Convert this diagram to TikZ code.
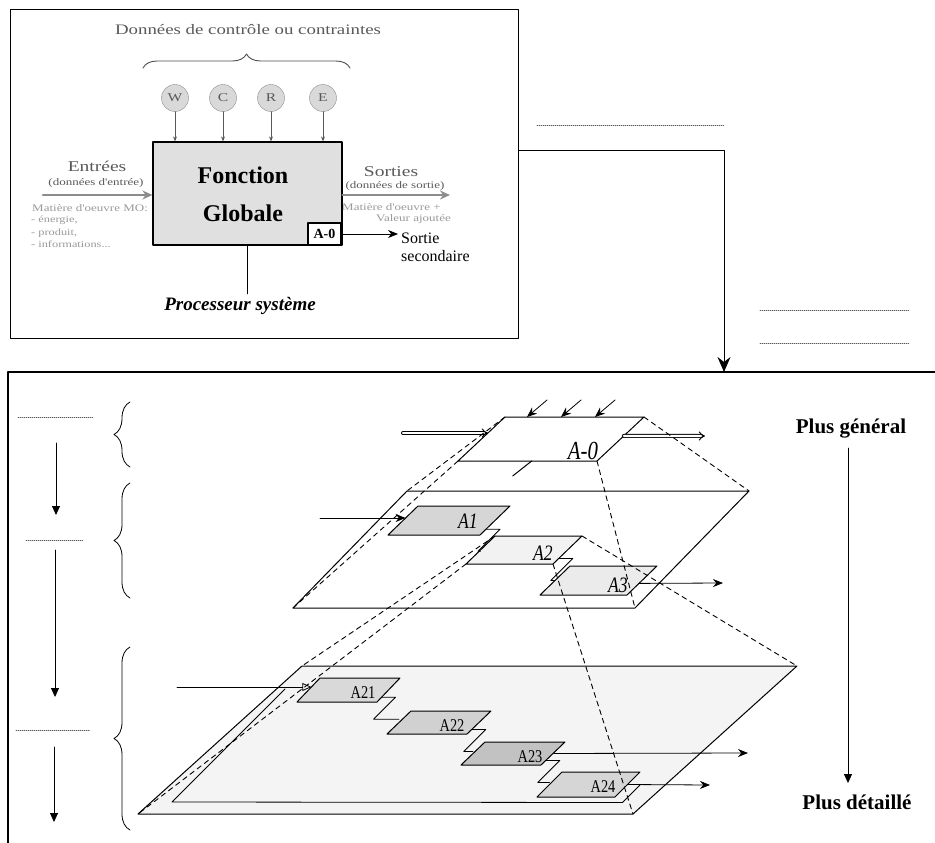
\documentclass[tikz,border=0pt]{standalone}
\usepackage{fontspec}
\setmainfont{Liberation Serif}
\newfontfamily\widefont[FakeStretch=1.3]{Liberation Serif}
\newfontfamily\narrowfont[FakeStretch=0.8]{Liberation Serif}
\usetikzlibrary{arrows.meta,calc,decorations.pathreplacing}

\definecolor{inkgrey}{gray}{0.35}
\definecolor{softgrey}{gray}{0.55}
\definecolor{paletext}{gray}{0.6}
\definecolor{boxgrey}{gray}{0.88}

\tikzset{
  frameline/.style={line width=1.1pt},
  planeline/.style={line width=1pt},
  proj/.style={dash pattern=on 5pt off 4pt,line width=.9pt},
  dots/.style={dash pattern=on .7pt off 1.3pt,line width=.7pt,black!65},
  flow/.style={-{Stealth[length=10pt,width=8pt]},line width=.8pt},
  leftflow/.style={-{Triangle[length=9pt,width=8pt]},line width=.8pt},
  openflow/.style={-{Triangle[open,length=9pt,width=8pt]},line width=.8pt},
  dflow/.style={double,double distance=2.2pt,line width=.9pt,-{Implies[scale=1.6]}},
  greyflow/.style={-{Stealth[length=10pt,width=9pt]},line width=2.6pt,softgrey},
  ctlarrow/.style={-{Stealth[length=5pt,width=4pt]},line width=.8pt,inkgrey},
  ctlcirc/.style={circle,draw=softgrey,fill=gray!30,minimum size=27,inner sep=0,
    text=inkgrey,font=\widefont\fontsize{12}{14}\selectfont},
  greytxt/.style={text=inkgrey,inner sep=1pt},
  smalltxt/.style={text=paletext,inner sep=1pt},
  zline/.style={line width=.8pt},
  boxlabel/.style={inner sep=0,font=\narrowfont\fontsize{18}{20}\selectfont},
  bigboxlabel/.style={inner sep=0,font=\narrowfont\itshape\fontsize{22}{24}\selectfont},
}

% parallelogram: name, bottom-left, width, slant offset, fill
\newcommand\pgram[5]{%
  \coordinate (#1-bl) at #2;
  \coordinate (#1-br) at ($(#1-bl)+(#3,0)$);
  \coordinate (#1-tl) at ($(#1-bl)+#4$);
  \coordinate (#1-tr) at ($(#1-br)+#4$);
  \draw[planeline,fill=#5] (#1-bl) -- (#1-br) -- (#1-tr) -- (#1-tl) -- cycle;}

% step link between two boxes of one level
\newcommand\zlink[2]{%
  \coordinate (#2-in) at ($(#2-bl)!.5!(#2-tl)$);
  \draw[zline] ($(#1-br)!.2!(#1-tr)$) -- ++(14,0) -- ++(-22,22) coordinate (#1-k)
    -- (#1-k -| #2-in);}

\begin{document}
\begin{tikzpicture}[x=1pt,y=-1pt,line cap=round,line join=round]
\useasboundingbox (0,0) rectangle (935,843);

% context diagram
\node[draw,frameline,minimum width=508,minimum height=329,anchor=north west,inner sep=0] (ctx) at (10,9) {};
\node[greytxt,font=\widefont\fontsize{14.5}{17}\selectfont] (ctltitle) at (248,30) {Données de contrôle ou contraintes};
\draw[decorate,decoration={brace,amplitude=14pt},black!70,line width=.9pt] (143,68) -- (350,68);

\node[draw,line width=1.2pt,fill=boxgrey,minimum width=189,minimum height=103] (fg) at (247.5,193.5) {};
\node[font=\bfseries\fontsize{24}{28}\selectfont] (fonc) at (243,175) {Fonction};
\node[font=\bfseries\fontsize{24}{28}\selectfont] (glob) at (243,213) {Globale};
\node[draw,line width=1.2pt,fill=white,font=\bfseries\fontsize{14}{16}\selectfont,
  minimum width=33,minimum height=22,inner sep=1pt,anchor=south east] (a0) at ([xshift=-1pt]fg.south east) {A-0};

\foreach \lt/\x in {W/175,C/223,R/271,E/323}{
  \node[ctlcirc] (c\lt) at (\x,98) {\lt};
  \draw[ctlarrow] (c\lt) -- (c\lt |- fg.north);
}

\coordinate (inE) at (43,195);
\draw[greyflow] (inE) -- (inE -| fg.west);
\node[greytxt,font=\widefont\fontsize{15}{17}\selectfont] (entr) at (97,166) {Entrées};
\node[greytxt,font=\widefont\fontsize{10}{12}\selectfont] (entr2) at (96,183) {(données d'entrée)};
\node[smalltxt,anchor=west,font=\widefont\fontsize{10}{12}\selectfont] (mo) at (31,208) {Matière d'oeuvre MO:};
\node[smalltxt,anchor=north west,align=left,font=\widefont\fontsize{9.5}{12.5}\selectfont] (molist) at (30,215)
  {- énergie,\\- produit,\\- informations...};

\coordinate (outE) at (450,195);
\draw[greyflow] (fg.east |- outE) -- (outE);
\node[greytxt,font=\widefont\fontsize{15}{17}\selectfont] (sort) at (391,172) {Sorties};
\node[greytxt,font=\widefont\fontsize{10}{12}\selectfont] (sort2) at (395,186) {(données de sortie)};
\node[smalltxt,anchor=west,font=\widefont\fontsize{10}{12}\selectfont] (mva) at (341,207) {Matière d'oeuvre +};
\node[smalltxt,anchor=east,font=\widefont\fontsize{10}{12}\selectfont] (mvb) at (452,219) {Valeur ajoutée};

\node[anchor=west,align=left,inner sep=3pt,font=\fontsize{16}{18}\selectfont] (ss) at (398,247) {Sortie\\secondaire};
\draw[flow] (a0.east) -- (a0.east -| ss.west);

\node[font=\bfseries\itshape\fontsize{19}{22}\selectfont] (proc) at (240,306) {Processeur système};
\draw[line width=.8pt] (fg.south) -- (fg.south |- proc.north);

% link down to the levels
\coordinate (dn) at (724,372);
\draw[line width=1pt,-{Stealth[length=15pt,width=13pt,inset=5pt]}] ([yshift=-141pt]ctx.north east) -| (dn);
\draw[dots] (537,125) -- (724,125);
\draw[dots] (760,310) -- (909,310);
\draw[dots] (760,343) -- (909,343);

% levels frame
\draw[frameline] (935,372) -- (8,372) -- (8,843);
\foreach \y/\a/\b in {417/18/93,540/26/83,730/16/90}
  \draw[dots] (\a,\y) -- (\b,\y);
\foreach \x/\a/\b in {56/443/515,55/550/697,54/747/822}
  \draw[leftflow] (\x,\a) -- (\x,\b);
\foreach \a/\b in {402/467,483/598,647/830}
  \draw[decorate,decoration={brace,amplitude=16pt},line width=.8pt] (130,\b) -- (130,\a);

\node[font=\bfseries\fontsize{21}{24}\selectfont] (pg) at (851,429) {Plus général};
\node[font=\bfseries\fontsize{21}{24}\selectfont] (pd) at (857,802) {Plus détaillé};
\draw[leftflow] ($(pg.south)+(-3,6)$) -- ($(pd.north)+(-9,-8)$);

% level 3
\pgram{P3}{(138,814)}{495}{(164,-148)}{gray!9}
\pgram{A21}{(297,702)}{80}{(23,-24)}{gray!30}
\pgram{A22}{(387,734)}{80}{(24,-23)}{gray!36}
\pgram{A23}{(461,765)}{80}{(24,-23)}{gray!48}
\pgram{A24}{(537,797)}{78}{(25,-25)}{gray!32}
\node[boxlabel] (lA21) at (363,693) {A21};
\node[boxlabel] (lA22) at (452,726) {A22};
\node[boxlabel] (lA23) at (530,757) {A23};
\node[boxlabel] (lA24) at (603,787) {A24};
\zlink{A21}{A22}
\zlink{A22}{A23}
\zlink{A23}{A24}
\coordinate (o23) at (748,753);
\coordinate (o24) at (710,785);
\draw[flow] ($(A23-br)!.5!(A23-tr)$) -- (o23);
\draw[flow] ($(A24-br)!.5!(A24-tr)$) -- (o24);
\draw[zline] ($(A24-br)!.5!(A24-tr)$) -- ++(13,0) -- ++(-18,18) -- (172,802) -- (285,689);
\coordinate (in3) at (177,687);
\coordinate (A21-in) at ($(A21-bl)!.625!(A21-tl)$);
\draw[openflow] (in3) -- (in3 -| A21-in);

% level 2
\pgram{P2}{(293,608)}{342}{(114,-117)}{white}
\pgram{A1}{(388,535)}{92}{(30,-29)}{gray!32}
\pgram{A2}{(466,564)}{87}{(29,-28)}{gray!10}
\pgram{A3}{(540,595)}{87}{(30,-29)}{gray!16}
\node[bigboxlabel] (lA1) at (468,521) {A1};
\node[bigboxlabel] (lA2) at (543,553) {A2};
\node[bigboxlabel] (lA3) at (618,585) {A3};
\zlink{A1}{A2}
\zlink{A2}{A3}
\coordinate (in2) at (320,518);
\coordinate (A1-in) at ($(A1-bl)!.586!(A1-tl)$);
\draw[flow] (in2) -- (in2 -| A1-in);
\coordinate (o3) at (723,583);
\draw[flow] ($(A3-br)!.4!(A3-tr)$) -- (o3);

% level 1
\pgram{A0}{(458,461)}{139}{(47,-44)}{white}
\node[inner sep=0,font=\narrowfont\itshape\fontsize{26}{28}\selectfont] (lA0) at (583,451) {A-0};
\foreach \x in {22,56,90}
  \draw[flow] ($(A0-tl)+(\x+20,-17)$) -- ($(A0-tl)+(\x,0)$);
\coordinate (in1) at (403,433);
\coordinate (A0-in) at ($(A0-bl)!.636!(A0-tl)$);
\draw[dflow] (in1) -- (in1 -| A0-in);
\coordinate (o1) at (705,436);
\draw[dflow] ($(A0-br)!.57!(A0-tr)$) -- (o1);
\draw[line width=1pt] ($(A0-bl)!.53!(A0-br)$) -- ++(-19,15);

% projections between levels
\foreach \cn in {tl,bl,tr,br}{
  \draw[proj] (A0-\cn) -- (P2-\cn);
  \draw[proj] (A2-\cn) -- (P3-\cn);
}
\end{tikzpicture}
\end{document}
